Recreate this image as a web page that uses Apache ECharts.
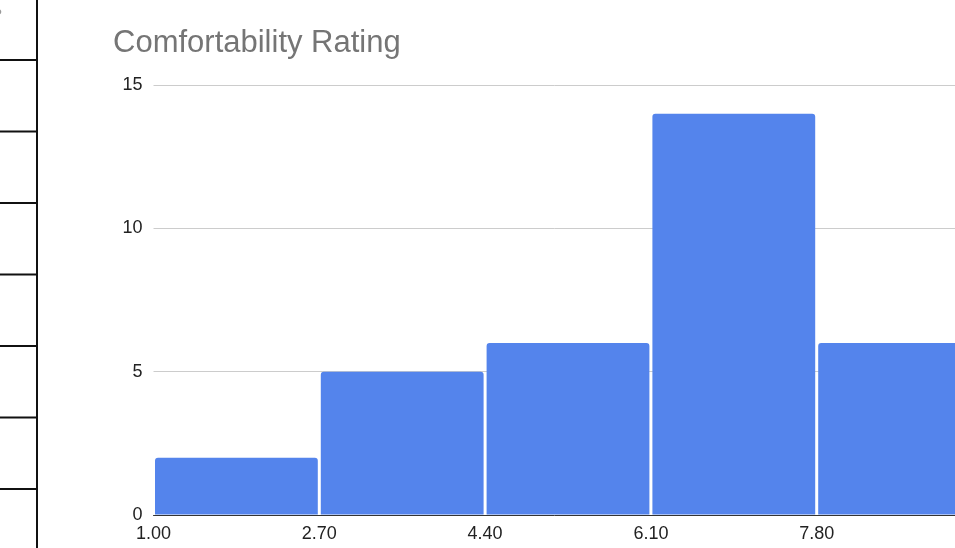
<!DOCTYPE html>
<html>
<head>
<meta charset="utf-8">
<script src="https://cdn.jsdelivr.net/npm/echarts@6/dist/echarts.min.js"></script>
<style>
  html, body { margin: 0; padding: 0; background: #fff; }
  #chart { width: 955px; height: 548px; }
</style>
</head>
<body>
<div id="chart"></div>
<script>
// Histogram bins of the comfortability rating
const binEdges = ['1.00', '2.70', '4.40', '6.10', '7.80', '9.50'];
const binCounts = [2, 5, 6, 14, 6];
const yTicks = [0, 5, 10, 15];

const chartTitle = 'Comfortability Rating';
const barColor = '#5484ec';
const fontFamily = '"Liberation Sans", Arial, sans-serif';

const chart = echarts.init(document.getElementById('chart'));

// Spreadsheet cell borders visible beside the chart
const rowLines = [60, 131.5, 203, 274.5, 346, 417.5, 489];
const graphics = [
  { type: 'line', shape: { x1: 37, y1: 0, x2: 37, y2: 548 }, style: { stroke: '#111', lineWidth: 2 } }
].concat(rowLines.map(y => ({
  type: 'line', shape: { x1: 0, y1: y, x2: 37, y2: y }, style: { stroke: '#111', lineWidth: 2 }
}))).concat([
  { type: 'text', left: -6, top: 8, style: { text: '?', fill: '#999', font: '14px ' + fontFamily } }
]);

chart.setOption({
  animation: false,
  backgroundColor: '#fff',
  title: {
    text: chartTitle,
    left: 108,
    top: 23,
    textStyle: { color: '#757575', fontSize: 31, fontWeight: 'normal', fontFamily: fontFamily }
  },
  graphic: graphics,
  // the plot runs past the right edge of the page
  grid: { left: 153.5, width: 829, top: 85, height: 430, containLabel: false, outerBoundsMode: 'none' },
  xAxis: {
    type: 'value',
    min: 0,
    max: binCounts.length,
    interval: 1,
    axisLine: { show: true, lineStyle: { color: '#333', width: 1 } },
    axisTick: { show: false },
    splitLine: { show: false },
    axisLabel: {
      color: '#222',
      fontSize: 18,
      fontFamily: fontFamily,
      margin: 10,
      formatter: v => binEdges[Math.round(v)]
    }
  },
  yAxis: {
    type: 'value',
    min: yTicks[0],
    max: yTicks[yTicks.length - 1],
    interval: yTicks[1] - yTicks[0],
    axisLine: { show: false },
    axisTick: { show: false },
    splitLine: { lineStyle: { color: '#cccccc', width: 1 } },
    axisLabel: { color: '#222', fontSize: 18, fontFamily: fontFamily, margin: 11 }
  },
  series: [{
    type: 'custom',
    data: binCounts.map((c, i) => [i, i + 1, c]),
    encode: { x: [0, 1], y: 2 },
    z: 3,
    renderItem: function (params, api) {
      const start = api.coord([api.value(0), api.value(2)]);
      const end = api.coord([api.value(1), 0]);
      const gap = 1.5;
      return {
        type: 'rect',
        shape: {
          x: start[0] + gap,
          y: start[1],
          width: end[0] - start[0] - gap * 2,
          height: end[1] - start[1] - 0.5,
          r: [3, 3, 0, 0]
        },
        style: { fill: barColor }
      };
    }
  }]
});
</script>
</body>
</html>
